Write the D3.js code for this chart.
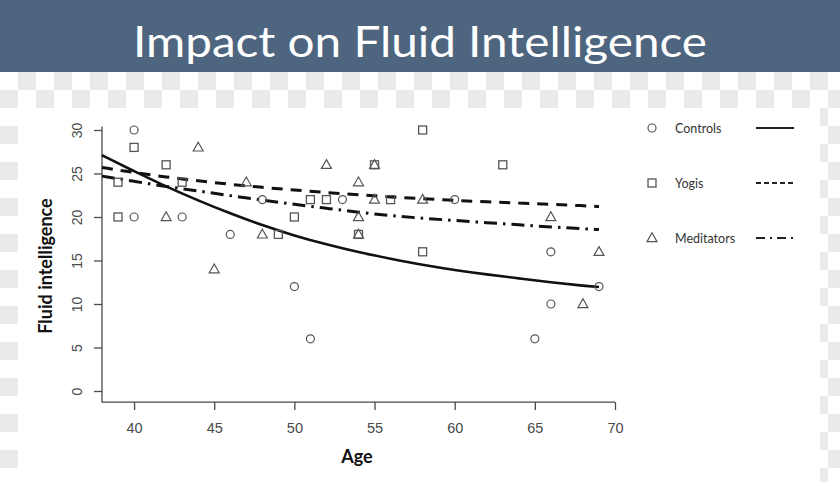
<!DOCTYPE html>
<html><head><meta charset="utf-8">
<script src="https://cdn.jsdelivr.net/npm/d3@7"></script>
<style>body{margin:0;background:#fff}svg{display:block}</style>
</head><body>
<svg id="c" width="840" height="482"></svg>
<script>
const title = "Impact on Fluid Intelligence";
const xLabel = "Age";
const yLabel = "Fluid intelligence";
const xTicks = [40, 45, 50, 55, 60, 65, 70];
const yTicks = [0, 5, 10, 15, 20, 25, 30];
const seriesNames = ["Controls", "Yogis", "Meditators"];

const controlsAge   = [40, 40, 43, 46, 48, 50, 51, 53, 60, 65, 66, 66, 69];
const controlsScore = [30, 20, 20, 18, 22, 12, 6, 22, 22, 6, 16, 10, 12];
const yogisAge      = [39, 39, 40, 42, 43, 49, 50, 51, 52, 54, 55, 56, 58, 58, 63];
const yogisScore    = [24, 20, 28, 26, 24, 18, 20, 22, 22, 18, 26, 22, 30, 16, 26];
const meditatorsAge   = [42, 44, 45, 47, 48, 52, 54, 54, 54, 55, 55, 58, 66, 68, 69];
const meditatorsScore = [20, 28, 14, 24, 18, 26, 24, 20, 18, 26, 22, 22, 20, 10, 16];

const fitAge        = [38, 40, 42, 44, 46, 48, 50, 52, 54, 56, 58, 60, 62, 64, 66, 68, 69];
const controlsFit   = [27.1, 25.25, 23.5, 21.9, 20.4, 19.05, 17.85, 16.85, 15.95, 15.2, 14.5, 13.9, 13.4, 12.95, 12.5, 12.1, 11.95];
const yogisFit      = [25.7, 25.1, 24.6, 24.15, 23.75, 23.4, 23.1, 22.8, 22.55, 22.3, 22.1, 21.9, 21.75, 21.6, 21.45, 21.3, 21.2];
const meditatorsFit = [24.7, 24.1, 23.5, 23.0, 22.45, 21.95, 21.45, 21.0, 20.55, 20.15, 19.85, 19.6, 19.35, 19.1, 18.85, 18.65, 18.55];

const svg = d3.select("#c");
const W = 840, H = 482;

// background: checkerboard rim + white panel
const cell = 18, checkTop = 72;
const bg = svg.append("g");
bg.append("rect").attr("width", W).attr("height", H).attr("fill", "#fff");
for (let r = 0; checkTop + r * cell < H; r++) {
  for (let c = 0; c * cell < W; c++) {
    if ((r + c) % 2 === 1) {
      bg.append("rect").attr("x", c * cell).attr("y", checkTop + r * cell)
        .attr("width", cell).attr("height", cell).attr("fill", "#eaeaea");
    }
  }
}
bg.append("rect").attr("x", 18).attr("y", 108).attr("width", 802).attr("height", H - 108).attr("fill", "#fff");

// header
svg.append("rect").attr("x", 0).attr("y", 0).attr("width", W).attr("height", 72).attr("fill", "#4e6580");
svg.append("text").attr("x", 420).attr("y", 57).attr("text-anchor", "middle")
  .attr("font-family", "Lato, 'Open Sans', sans-serif").attr("font-size", 43)
  .attr("fill", "#fff").attr("textLength", 574).attr("lengthAdjust", "spacingAndGlyphs")
  .text(title);

// scales
const x = d3.scaleLinear().domain([38, 70]).range([102, 615]);
const y = d3.scaleLinear().domain([0, 30]).range([391, 130]);
const axisColor = "#4a4a4a";

// axis lines (L box)
svg.append("path").attr("d", d3.line()([[x(38), y(30.4)], [x(38), y(-1.27)], [x(70), y(-1.27)]]))
  .attr("fill", "none").attr("stroke", axisColor).attr("stroke-width", 1.3);

// y axis
const yAx = svg.append("g").attr("transform", `translate(${x(38)},0)`)
  .call(d3.axisLeft(y).tickValues(yTicks).tickSize(8).tickFormat(d3.format("d")));
yAx.select(".domain").remove();
yAx.selectAll("line").attr("stroke", axisColor).attr("stroke-width", 1.3);
yAx.selectAll("text").attr("transform", "rotate(-90)").attr("x", 0).attr("y", -20).attr("dy", 0)
  .attr("text-anchor", "middle").attr("font-family", "'Liberation Sans', Arial, sans-serif")
  .attr("font-size", 14).attr("fill", "#4a4a4a");

// x axis
const xAx = svg.append("g").attr("transform", `translate(0,${y(-1.27)})`)
  .call(d3.axisBottom(x).tickValues(xTicks).tickSize(8).tickFormat(d3.format("d")));
xAx.select(".domain").remove();
xAx.selectAll("line").attr("stroke", axisColor).attr("stroke-width", 1.3);
xAx.selectAll("text").attr("y", 31).attr("dy", 0)
  .attr("font-family", "'Liberation Sans', Arial, sans-serif").attr("font-size", 14.5).attr("fill", "#4a4a4a");

// axis titles
svg.append("text").attr("x", 357).attr("y", 463).attr("text-anchor", "middle")
  .attr("font-family", "Lato, sans-serif").attr("font-weight", "bold").attr("font-size", 18)
  .attr("fill", "#111").text(xLabel);
svg.append("text").attr("transform", "translate(52,266) rotate(-90)").attr("text-anchor", "middle")
  .attr("font-family", "Lato, sans-serif").attr("font-weight", "bold").attr("font-size", 18)
  .attr("fill", "#111").text(yLabel);

// symbols
const symStroke = "#555";
function drawSym(g, kind, cx, cy) {
  if (kind === 0) {
    g.append("circle").attr("cx", cx).attr("cy", cy).attr("r", 4)
      .attr("fill", "none").attr("stroke", symStroke).attr("stroke-width", 1.2);
  } else if (kind === 1) {
    g.append("rect").attr("x", cx - 4).attr("y", cy - 4).attr("width", 8).attr("height", 8)
      .attr("fill", "none").attr("stroke", symStroke).attr("stroke-width", 1.3);
  } else {
    g.append("path").attr("d", `M${cx},${cy - 5.2}L${cx + 5},${cy + 3.6}L${cx - 5},${cy + 3.6}Z`)
      .attr("fill", "none").attr("stroke", symStroke).attr("stroke-width", 1.2);
  }
}

// fitted lines
const lineGen = d3.line().x(d => x(d[0])).y(d => y(d[1])).curve(d3.curveBasis);
const fits = [controlsFit, yogisFit, meditatorsFit];
const dashes = [null, "11,8", "13,6,2.5,6"];
const widths = [2.6, 3, 3];
fits.forEach((f, i) => {
  svg.append("path").datum(fitAge.map((a, j) => [a, f[j]]))
    .attr("d", lineGen).attr("fill", "none").attr("stroke", "#111")
    .attr("stroke-width", widths[i]).attr("stroke-dasharray", dashes[i]);
});

// points
const pts = svg.append("g");
[[controlsAge, controlsScore], [yogisAge, yogisScore], [meditatorsAge, meditatorsScore]].forEach((s, k) => {
  s[0].forEach((a, j) => drawSym(pts, k, x(a), y(s[1][j])));
});

// legend
const legY = [128, 183, 238];
const legDash = [null, "5,3", "9,5,2,5"];
const leg = svg.append("g");
seriesNames.forEach((n, i) => {
  drawSym(leg, i, 652, legY[i]);
  leg.append("text").attr("x", 675).attr("y", legY[i] + 4.5)
    .attr("font-family", "Lato, sans-serif").attr("font-size", 12.5).attr("fill", "#333").text(n);
  leg.append("line").attr("x1", 756).attr("x2", 794).attr("y1", legY[i]).attr("y2", legY[i])
    .attr("stroke", "#222").attr("stroke-width", 2.2).attr("stroke-dasharray", legDash[i]);
});
</script>
</body></html>
